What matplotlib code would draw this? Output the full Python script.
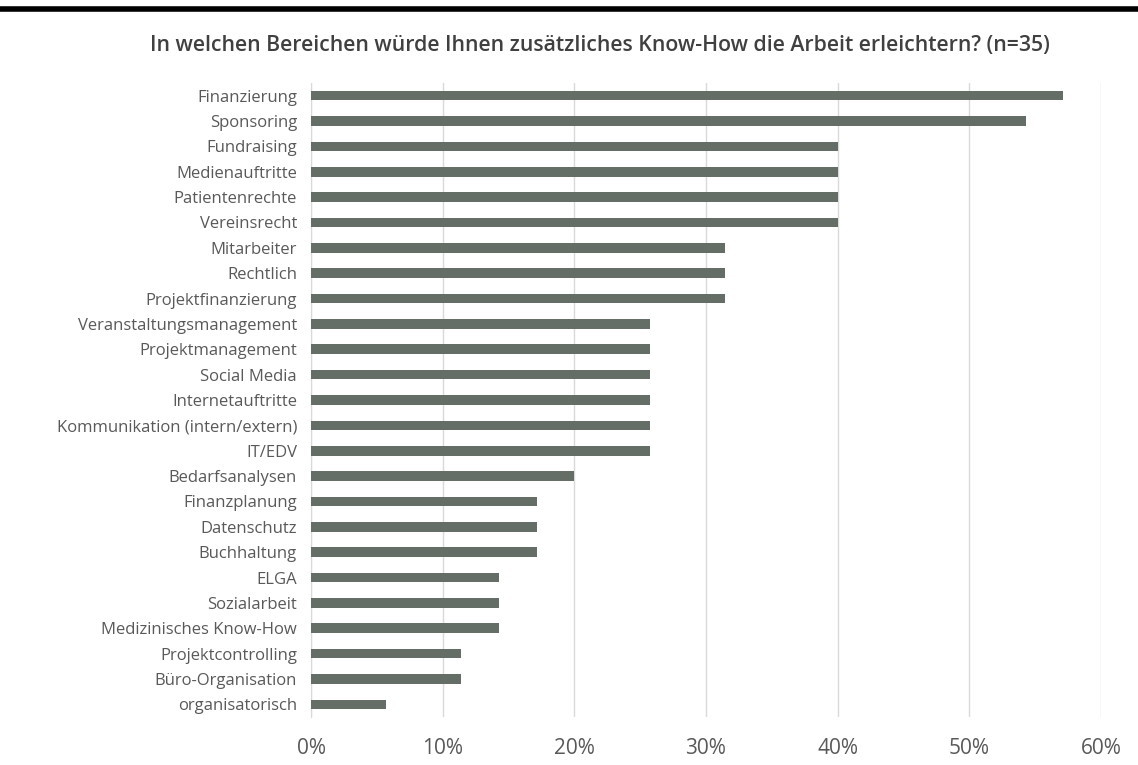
import matplotlib.pyplot as plt
from matplotlib.ticker import PercentFormatter

categories = [
    "Finanzierung", "Sponsoring", "Fundraising", "Medienauftritte",
    "Patientenrechte", "Vereinsrecht", "Mitarbeiter", "Rechtlich",
    "Projektfinanzierung", "Veranstaltungsmanagement", "Projektmanagement",
    "Social Media", "Internetauftritte", "Kommunikation (intern/extern)",
    "IT/EDV", "Bedarfsanalysen", "Finanzplanung", "Datenschutz",
    "Buchhaltung", "ELGA", "Sozialarbeit", "Medizinisches Know-How",
    "Projektcontrolling", "Büro-Organisation", "organisatorisch",
]
counts = [20, 19, 14, 14, 14, 14, 11, 11, 11, 9, 9, 9, 9, 9, 9,
          7, 6, 6, 6, 5, 5, 5, 4, 4, 2]
n = 35
shares = [c / n for c in counts]

plt.rcParams['font.family'] = ['Open Sans', 'DejaVu Sans']

fig = plt.figure(figsize=(11.38, 7.65), dpi=100)
ax = fig.add_axes([311 / 1138, 1 - 717 / 765, (1101 - 311) / 1138, (717 - 83) / 765])

y = range(len(categories))
ax.barh(y, shares, height=0.38, color="#646E67", zorder=3)
ax.set_ylim(len(categories) - 0.5, -0.5)
ax.set_xlim(0, 0.6)
ax.set_yticks(list(y))
ax.set_yticklabels(categories)
ax.set_xticks([0, 0.1, 0.2, 0.3, 0.4, 0.5, 0.6])
ax.xaxis.set_major_formatter(PercentFormatter(1.0, decimals=0))

ax.grid(axis="x", color="#D9D9D9", linewidth=1, zorder=0)
for s in ["top", "right", "bottom"]:
    ax.spines[s].set_visible(False)
ax.spines["left"].set_color("#D9D9D9")
ax.tick_params(axis="both", length=0)
ax.tick_params(axis="y", labelsize=12, labelcolor="#595959", pad=10)
ax.tick_params(axis="x", labelsize=15, labelcolor="#595959", pad=15)

fig.text(600 / 1138, 1 - 46 / 765, "In welchen Bereichen würde Ihnen zusätzliches Know-How die Arbeit erleichtern? (n=35)",
         ha="center", va="center", fontsize=15.3, fontweight="semibold", color="#404040")

fig.add_artist(plt.Line2D([0, 1], [1 - 8.5 / 765, 1 - 8.5 / 765], color="black", linewidth=4))

plt.savefig("out.png", dpi=100)
